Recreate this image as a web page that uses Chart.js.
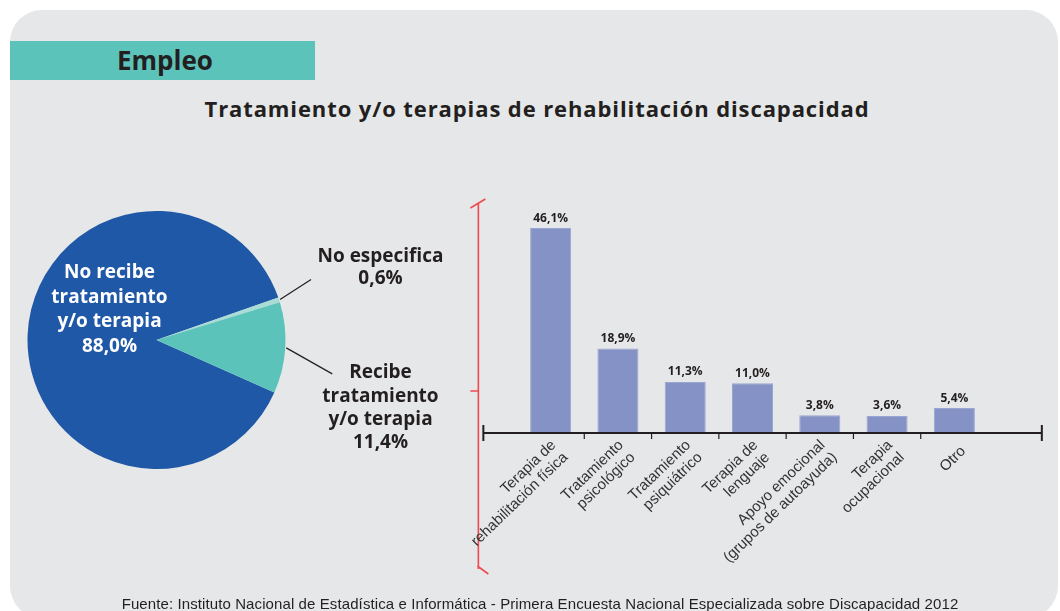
<!DOCTYPE html>
<html>
<head>
<meta charset="utf-8">
<script src="https://cdn.jsdelivr.net/npm/chart.js@4.4.0/dist/chart.umd.min.js"></script>
<style>
  body { margin: 0; background: #fff; width: 1060px; height: 611px; overflow: hidden; position: relative; font-family: 'Open Sans', sans-serif; color: #231f20; }
  .panel { position: absolute; left: 10px; top: 10px; width: 1048px; height: 608px; background: #e6e7e8; border-radius: 32px; }
  .tab { position: absolute; left: 10px; top: 41px; width: 305px; height: 39px; background: #5cc3bb; }
  .tab span { position: absolute; left: 107px; top: 0; line-height: 39px; font-size: 26px; font-weight: bold; }
  .title { position: absolute; left: 14px; width: 1046px; top: 94px; line-height: 28px; text-align: center; font-size: 22px; font-weight: bold; letter-spacing: 0.9px; }
  .source { position: absolute; left: 20px; width: 1040px; top: 595px; line-height: 18px; text-align: center; font-family: 'Liberation Sans', Arial, sans-serif; font-size: 15px; letter-spacing: 0.1px; }
  canvas { position: absolute; }
</style>
</head>
<body>
<div class="panel"></div>
<div class="tab"><span>Empleo</span></div>
<div class="title">Tratamiento y/o terapias de rehabilitación discapacidad</div>
<canvas id="pie" width="470" height="300" style="left:0;top:190px"></canvas>
<canvas id="bars" width="600" height="421" style="left:460px;top:190px"></canvas>
<div class="source">Fuente: Instituto Nacional de Estadística e Informática - Primera Encuesta Nacional Especializada sobre Discapacidad 2012</div>

<script>
// pie: tratamiento
const pieLabels = [
  ["No recibe", "tratamiento", "y/o terapia"],
  ["No especifica"],
  ["Recibe", "tratamiento", "y/o terapia"]
];
const pieValues = [88.0, 0.6, 11.4];
const pieColors = ["#1f58a6", "#a9dcd6", "#5cc3bb"];

// barras: tipo de tratamiento
const barLabels = [
  ["Terapia de", "rehabilitación física"],
  ["Tratamiento", "psicológico"],
  ["Tratamiento", "psiquiátrico"],
  ["Terapia de", "lenguaje"],
  ["Apoyo emocional", "(grupos de autoayuda)"],
  ["Terapia", "ocupacional"],
  ["Otro"]
];
const barValues = [46.1, 18.9, 11.3, 11.0, 3.8, 3.6, 5.4];

const pct = v => v.toFixed(1).replace(".", ",") + "%";

const pieText = {
  id: "pieText",
  afterDatasetsDraw(chart) {
    const ctx = chart.ctx;
    const arcs = chart.getDatasetMeta(0).data;
    const cx = arcs[0].x, cy = arcs[0].y, r = arcs[0].outerRadius;
    ctx.save();
    ctx.font = "bold 19px 'Open Sans'";
    ctx.textAlign = "center";
    ctx.textBaseline = "middle";

    // label inside the big slice
    ctx.fillStyle = "#fff";
    const inner = pieLabels[0].concat(pct(pieValues[0]));
    inner.forEach((t, i) => ctx.fillText(t, cx - 47, cy - 67 + i * 24.5));

    // leader lines
    ctx.strokeStyle = "#231f20";
    ctx.lineWidth = 1.2;
    const lead = (arc, dx, dy) => {
      const a = (arc.startAngle + arc.endAngle) / 2;
      const x0 = cx + (r + 1) * Math.cos(a), y0 = cy + (r + 1) * Math.sin(a);
      ctx.beginPath();
      ctx.moveTo(x0, y0);
      ctx.lineTo(x0 + dx, y0 + dy);
      ctx.stroke();
    };
    lead(arcs[1], 31, -20);
    lead(arcs[2], 46, 26);

    ctx.fillStyle = "#231f20";
    const l1 = pieLabels[1].concat(pct(pieValues[1]));
    l1.forEach((t, i) => ctx.fillText(t, cx + 224, cy - 83 + i * 22));
    const l2 = pieLabels[2].concat(pct(pieValues[2]));
    l2.forEach((t, i) => ctx.fillText(t, cx + 224, cy + 33 + i * 23.3));
    ctx.restore();
  }
};

new Chart(document.getElementById("pie"), {
  type: "pie",
  data: {
    labels: pieLabels.map(l => l.join(" ")),
    datasets: [{ data: pieValues, backgroundColor: pieColors, borderWidth: 0 }]
  },
  options: {
    responsive: false,
    animation: false,
    rotation: 114,
    layout: { padding: { left: 27, right: 184, top: 21, bottom: 21 } },
    plugins: { legend: { display: false }, tooltip: { enabled: false } }
  },
  plugins: [pieText]
});

const barDeco = {
  id: "barDeco",
  afterDatasetsDraw(chart) {
    const ctx = chart.ctx;
    const xs = chart.scales.x, ys = chart.scales.y;
    const base = ys.getPixelForValue(0);
    const cw = xs.getPixelForValue(1) - xs.getPixelForValue(0);
    const left = xs.left - 0.5 * cw, right = xs.right + 0.8 * cw;
    ctx.save();

    // red bracket line
    const rx = left - 5, top = chart.chartArea.top + 1, bot = base + 137;
    ctx.strokeStyle = "#ee4a50";
    ctx.lineWidth = 1.6;
    ctx.beginPath();
    ctx.moveTo(rx, top); ctx.lineTo(rx, bot);
    ctx.moveTo(rx - 8, top + 5); ctx.lineTo(rx + 7, top - 4);
    ctx.moveTo(rx - 8, base - 41); ctx.lineTo(rx, base - 41);
    ctx.moveTo(rx - 1, bot - 3); ctx.lineTo(rx + 10, bot + 5);
    ctx.stroke();

    // category axis
    ctx.strokeStyle = "#231f20";
    ctx.lineWidth = 2;
    ctx.beginPath();
    ctx.moveTo(left, base + 1); ctx.lineTo(right, base + 1);
    ctx.moveTo(left, base - 7); ctx.lineTo(left, base + 9);
    ctx.moveTo(right, base - 7); ctx.lineTo(right, base + 9);
    ctx.stroke();
    ctx.lineWidth = 1.2;
    ctx.beginPath();
    for (let i = 1; i < barValues.length; i++) {
      const x = xs.getPixelForValue(i) - cw / 2;
      ctx.moveTo(x, base + 1); ctx.lineTo(x, base + 7);
    }
    ctx.stroke();

    // value labels
    ctx.fillStyle = "#231f20";
    ctx.font = "bold 12px 'Open Sans'";
    ctx.textAlign = "center";
    ctx.textBaseline = "bottom";
    chart.getDatasetMeta(0).data.forEach((b, i) => {
      ctx.fillText(pct(barValues[i]), b.x, b.y - 4);
    });

    // rotated category labels
    ctx.fillStyle = "#333";
    ctx.font = "15px 'Liberation Sans'";
    ctx.textAlign = "right";
    ctx.textBaseline = "middle";
    barLabels.forEach((lines, i) => {
      ctx.save();
      ctx.translate(xs.getPixelForValue(i) + 9, base + 17);
      ctx.rotate(-44 * Math.PI / 180);
      lines.forEach((t, j) => ctx.fillText(t, 0, (j - (lines.length - 1) / 2) * 17));
      ctx.restore();
    });
    ctx.restore();
  }
};

new Chart(document.getElementById("bars"), {
  type: "bar",
  data: {
    labels: barLabels,
    datasets: [{
      data: barValues,
      backgroundColor: "#8592c6",
      borderColor: "#9aa5d2",
      borderWidth: 1,
      barPercentage: 0.61,
      categoryPercentage: 1
    }]
  },
  options: {
    responsive: false,
    animation: false,
    layout: { padding: { left: 57, right: 72, top: 12, bottom: 179 } },
    scales: {
      x: { display: false, offset: true },
      y: { display: false, min: 0, max: 52 }
    },
    plugins: { legend: { display: false }, tooltip: { enabled: false } }
  },
  plugins: [barDeco]
});
</script>
</body>
</html>
